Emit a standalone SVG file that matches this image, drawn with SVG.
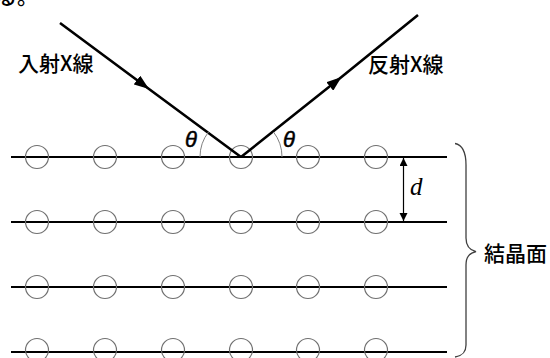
<svg xmlns="http://www.w3.org/2000/svg" width="550" height="358" viewBox="0 0 550 358">
<style>
.plane{stroke:#000;stroke-width:1.8;fill:none}
.atom{stroke:#707070;stroke-width:1.2;fill:none}
.ray{stroke:#000;stroke-width:2.6;fill:none}
.arc{stroke:#808080;stroke-width:1;fill:none}
.lbl{font-family:"Noto Sans CJK JP","Noto Sans",sans-serif;font-size:21px;font-weight:500;fill:#000}
.theta{font-family:"Liberation Sans",Arial,sans-serif;font-style:italic;font-size:22px;fill:#000;stroke:#000;stroke-width:0.5}
.dl{font-family:"Liberation Serif","Times New Roman",serif;font-style:italic;font-size:25px;fill:#000}
</style>
<defs>
<marker id="big" markerUnits="userSpaceOnUse" markerWidth="16" markerHeight="11" refX="15" refY="5.5" orient="auto" viewBox="0 0 16 11">
<path d="M0,0 L15,5.5 L0,11 z" fill="#000"/>
</marker>
<marker id="small" markerUnits="userSpaceOnUse" markerWidth="9" markerHeight="9" refX="8" refY="4" orient="auto-start-reverse" viewBox="0 0 9 9">
<path d="M0,0 L8,4 L0,8 z" fill="#000"/>
</marker>
</defs>
<rect width="550" height="358" fill="#fff"/>
<text x="-4" y="4" class="lbl" font-size="26">る。</text>

<g id="planes">
<line class="plane" x1="11" y1="157" x2="447" y2="157"/>
<line class="plane" x1="11" y1="222" x2="447" y2="222"/>
<line class="plane" x1="11" y1="287" x2="447" y2="287"/>
<line class="plane" x1="11" y1="352" x2="447" y2="352"/>
</g>
<g id="atoms">
<circle class="atom" cx="37" cy="157" r="11.5"/><circle class="atom" cx="105" cy="157" r="11.5"/><circle class="atom" cx="173" cy="157" r="11.5"/><circle class="atom" cx="241" cy="157" r="11.5"/><circle class="atom" cx="308" cy="157" r="11.5"/><circle class="atom" cx="376" cy="157" r="11.5"/>
<circle class="atom" cx="37" cy="222" r="11.5"/><circle class="atom" cx="105" cy="222" r="11.5"/><circle class="atom" cx="173" cy="222" r="11.5"/><circle class="atom" cx="241" cy="222" r="11.5"/><circle class="atom" cx="308" cy="222" r="11.5"/><circle class="atom" cx="376" cy="222" r="11.5"/>
<circle class="atom" cx="37" cy="287" r="11.5"/><circle class="atom" cx="105" cy="287" r="11.5"/><circle class="atom" cx="173" cy="287" r="11.5"/><circle class="atom" cx="241" cy="287" r="11.5"/><circle class="atom" cx="308" cy="287" r="11.5"/><circle class="atom" cx="376" cy="287" r="11.5"/>
<circle class="atom" cx="37" cy="350" r="11.5"/><circle class="atom" cx="105" cy="350" r="11.5"/><circle class="atom" cx="173" cy="350" r="11.5"/><circle class="atom" cx="241" cy="350" r="11.5"/><circle class="atom" cx="308" cy="350" r="11.5"/><circle class="atom" cx="376" cy="350" r="11.5"/>
</g>

<g id="connectors">
<path class="ray" d="M60,23 L149,89 L241,157" marker-mid="url(#big)"/>
<path class="ray" d="M241,157 L341.5,77 L418,15" marker-mid="url(#big)"/>
<line x1="403.5" y1="158" x2="403.5" y2="221" stroke="#000" stroke-width="1.2" marker-start="url(#small)" marker-end="url(#small)"/>
<path class="arc" d="M200,157 A41,41 0 0 1 208.5,132"/>
<path class="arc" d="M282,157 A41,41 0 0 0 273.5,132"/>
</g>

<g id="incident-label"><text class="lbl" x="18" y="71">入射X線</text></g>
<g id="reflected-label"><text class="lbl" x="368" y="72">反射X線</text></g>
<g id="theta-left"><text class="theta" x="185" y="147">θ</text></g>
<g id="theta-right"><text class="theta" x="283" y="147">θ</text></g>
<g id="d-label"><text class="dl" x="410" y="195">d</text></g>
<g id="brace">
<path d="M455,143.5 C463,145 466,152 466,165 L466,238 C466,246 469,250 476,251.7 C469,253.5 466,257 466,265 L466,345 C466,352 463,355.5 455,357" fill="none" stroke="#404040" stroke-width="1.3"/>
</g>
<g id="crystal-label"><text class="lbl" x="484" y="261">結晶面</text></g>
</svg>
